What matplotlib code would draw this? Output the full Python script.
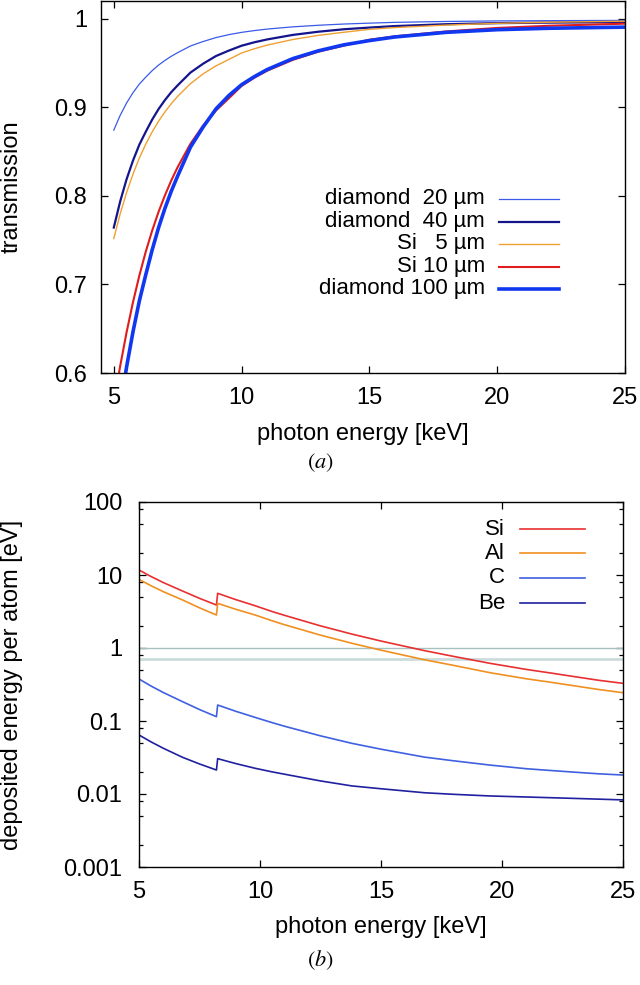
import numpy as np
import matplotlib
matplotlib.use("Agg")
import matplotlib.pyplot as plt
from matplotlib.ticker import FixedLocator, NullFormatter, NullLocator

plt.rcParams['font.family'] = ['Liberation Sans', 'DejaVu Sans']
plt.rcParams['mathtext.fontset'] = 'stix'
plt.rcParams['font.size'] = 17

# (a) transmission vs photon energy
energy_a = [5, 5.25, 5.5, 5.75, 6, 6.25, 6.5, 6.75, 7, 7.25, 7.5, 8, 8.5, 9, 9.5, 10, 10.5,
            11, 12, 13, 14, 15, 16, 18, 20, 22, 25]
diamond_20 = [0.8742, 0.8909, 0.9048, 0.9164, 0.9262, 0.9340, 0.9413, 0.9476, 0.9529, 0.9576,
              0.9617, 0.9692, 0.9743, 0.9787, 0.9820, 0.9846, 0.9866, 0.9883, 0.9908, 0.9926,
              0.9940, 0.9950, 0.9959, 0.9969, 0.9975, 0.9978, 0.9981]
diamond_40 = [0.7642, 0.7937, 0.8187, 0.8397, 0.8578, 0.8723, 0.8860, 0.8979, 0.9081, 0.9171,
              0.9248, 0.9392, 0.9493, 0.9579, 0.9640, 0.9695, 0.9734, 0.9766, 0.9817, 0.9853,
              0.9881, 0.9900, 0.9917, 0.9938, 0.9950, 0.9956, 0.9962]
si_5 = [0.7518, 0.7796, 0.8036, 0.8245, 0.8426, 0.8584, 0.8721, 0.8842, 0.8947, 0.9041,
        0.9124, 0.9267, 0.9378, 0.9468, 0.9540, 0.9613, 0.9661, 0.9702, 0.9765, 0.9812,
        0.9847, 0.9880, 0.9900, 0.9928, 0.9948, 0.9960, 0.9972]
si_10 = [0.5652, 0.6078, 0.6458, 0.6798, 0.7100, 0.7369, 0.7606, 0.7818, 0.8005, 0.8174,
         0.8325, 0.8588, 0.8795, 0.8964, 0.9101, 0.9241, 0.9334, 0.9413, 0.9535, 0.9628,
         0.9696, 0.9762, 0.9801, 0.9856, 0.9896, 0.9920, 0.9944]
diamond_100 = [0.5105, 0.5614, 0.6066, 0.6463, 0.6814, 0.7108, 0.7388, 0.7639, 0.7858, 0.8053,
               0.8225, 0.8550, 0.8779, 0.8982, 0.9132, 0.9255, 0.9346, 0.9426, 0.9549, 0.9637,
               0.9705, 0.9753, 0.9794, 0.9846, 0.9876, 0.9892, 0.9905]

# (b) deposited energy per atom [eV]
energy_b = [5, 5.5, 6, 6.8, 7.5, 8.2, 8.25, 9, 9.8, 10.5, 11, 12.5, 13.8, 15, 16.8, 18, 19.5,
            21, 22, 23, 24, 25]
dep_si = [11.7, 9.52, 7.89, 6.03, 4.79, 3.88, 5.61, 4.60, 3.79, 3.16, 2.81, 2.01, 1.55, 1.245,
          0.92, 0.767, 0.617, 0.509, 0.455, 0.405, 0.361, 0.328]
dep_al = [8.7, 7.12, 5.92, 4.55, 3.55, 2.83, 4.09, 3.39, 2.83, 2.36, 2.09, 1.50, 1.16, 0.934,
          0.69, 0.578, 0.459, 0.379, 0.340, 0.303, 0.270, 0.244]
dep_c = [0.376, 0.301, 0.246, 0.184, 0.1436, 0.1146, 0.1656, 0.1358, 0.112, 0.095, 0.085,
         0.0626, 0.0494, 0.0411, 0.032, 0.0285, 0.0249, 0.0222, 0.0210, 0.0199, 0.0189, 0.0182]
dep_be = [0.0643, 0.0517, 0.0424, 0.0318, 0.0258, 0.0213, 0.0305, 0.0261, 0.0225, 0.0201,
          0.0187, 0.0151, 0.0129, 0.0118, 0.0104, 0.0099, 0.0094, 0.0091, 0.0089, 0.0087,
          0.0085, 0.0083]
ref_levels = [1.0, 0.7]

fig = plt.figure(figsize=(6.4, 9.85), dpi=100)


def gp_style(ax):
    # gnuplot-like frame: inward ticks on all four sides
    for s in ax.spines.values():
        s.set_linewidth(1.0)
    ax.tick_params(which='both', direction='in', top=True, right=True, width=0.9)
    ax.tick_params(which='major', length=5)
    ax.tick_params(which='minor', length=3)
    ax.tick_params(axis='y', pad=10)
    ax.tick_params(axis='x', pad=10)


def gp_legend(ax, rows, x_text, x0, x1, ys):
    for (label, color, lw), y in zip(rows, ys):
        ax.text(x_text, y, label, transform=ax.transAxes, ha='right', va='center', fontsize=16)
        ax.plot([x0, x1], [y, y], transform=ax.transAxes, color=color, lw=lw)


# ---- panel (a)
ax1 = fig.add_axes([101 / 640, 1 - 373 / 985, 524 / 640, 372 / 985])
series_a = [
    ('diamond  20 µm', diamond_20, '#3a5ae8', 0.9),
    ('diamond  40 µm', diamond_40, '#14148c', 1.6),
    ('Si   5 µm', si_5, '#f0a030', 1.0),
    ('Si 10 µm', si_10, '#e01c1c', 1.5),
    ('diamond 100 µm', diamond_100, '#1038f0', 2.6),
]
for label, vals, color, lw in series_a:
    ax1.plot(energy_a, vals, color=color, lw=lw)
ax1.set_xlim(4.5, 25)
ax1.set_ylim(0.6, 1.02)
ax1.set_xticks([5, 10, 15, 20, 25])
ax1.set_yticks([0.6, 0.7, 0.8, 0.9, 1.0])
ax1.set_yticklabels(['0.6', '0.7', '0.8', '0.9', '1'])
gp_style(ax1)
ax1.set_xlabel('photon energy [keV]', va='center')
ax1.xaxis.set_label_coords(0.5, (373 - 434) / 372)
ax1.set_ylabel('transmission', va='center')
ax1.yaxis.set_label_coords((12 - 101) / 524, 0.5)
gp_legend(ax1, [(l, c, w) for l, _, c, w in series_a],
          0.733, 0.760, 0.874, [0.468, 0.406, 0.347, 0.285, 0.226])

fig.text(0.5, 1 - 463 / 985, '$(a)$', ha='center', va='center', fontsize=16)

# ---- panel (b)
ax2 = fig.add_axes([139 / 640, 1 - 867 / 985, 484 / 640, 365 / 985])
for lev, color, lw in zip(ref_levels, ['#a8c0c0', '#ccdcdc'], [1.0, 2.0]):
    ax2.axhline(lev, color=color, lw=lw)
series_b = [
    ('Si', dep_si, '#e83030', 1.2),
    ('Al', dep_al, '#f09020', 1.2),
    ('C', dep_c, '#4060e0', 1.2),
    ('Be', dep_be, '#2020a0', 1.2),
]
for label, vals, color, lw in series_b:
    ax2.plot(energy_b, vals, color=color, lw=lw)
ax2.set_yscale('log')
ax2.set_xlim(5, 25)
ax2.set_ylim(0.001, 100)
ax2.set_xticks([5, 10, 15, 20, 25])
ax2.xaxis.set_minor_locator(NullLocator())
ax2.yaxis.set_major_locator(FixedLocator([0.001, 0.01, 0.1, 1, 10, 100]))
ax2.set_yticklabels(['0.001', '0.01', '0.1', '1', '10', '100'])
minor = [d * s for d in [0.001, 0.01, 0.1, 1, 10] for s in (2, 5, 8)]
ax2.yaxis.set_minor_locator(FixedLocator(minor))
ax2.yaxis.set_minor_formatter(NullFormatter())
gp_style(ax2)
ax2.tick_params(axis='y', pad=12)
ax2.set_xlabel('photon energy [keV]', va='center')
ax2.xaxis.set_label_coords(0.5, (867 - 927) / 365)
ax2.set_ylabel('deposited energy per atom [eV]', va='center')
ax2.yaxis.set_label_coords((12 - 139) / 484, 0.5)
gp_legend(ax2, [(l, c, w) for l, _, c, w in series_b],
          0.756, 0.787, 0.921, [0.926, 0.860, 0.792, 0.723])

fig.text(0.5, 1 - 960 / 985, '$(b)$', ha='center', va='center', fontsize=16)

fig.savefig('out.png', dpi=100)
